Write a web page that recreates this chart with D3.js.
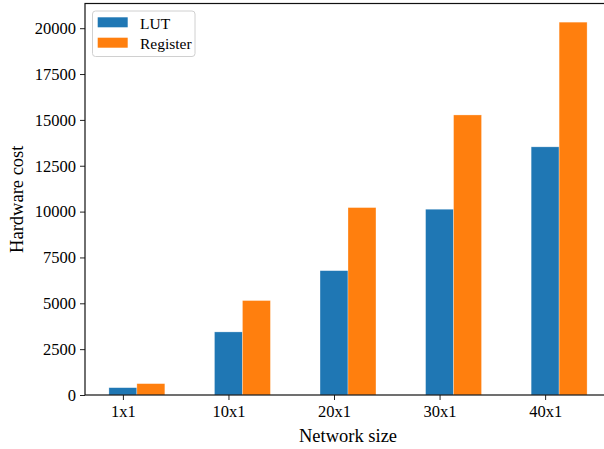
<!DOCTYPE html>
<html>
<head>
<meta charset="utf-8">
<script src="https://cdn.jsdelivr.net/npm/d3@7/dist/d3.min.js"></script>
<style>
  html, body { margin: 0; padding: 0; background: #fff; }
  svg { display: block; font-family: "Liberation Serif", "Times New Roman", serif; }
</style>
</head>
<body>
<svg id="chart" width="604" height="449"></svg>
<script>
// Hardware cost per network size
const categories = ["1x1", "10x1", "20x1", "30x1", "40x1"];
const lutValues = [400, 3440, 6780, 10130, 13530];
const registerValues = [620, 5150, 10220, 15270, 20330];
const yTicks = [0, 2500, 5000, 7500, 10000, 12500, 15000, 17500, 20000];
const seriesNames = ["LUT", "Register"];
const seriesColors = ["#1f77b4", "#ff7f0e"];

const W = 604, H = 449;
const plot = { left: 85, right: 611, top: 3.5, bottom: 395 };
const barW = 0.265; // bar width in category units

const svg = d3.select("#chart");

// x domain: bars span from -barW/2 to last + 1.5*barW, padded by 5%
const xMin = -barW / 2, xMax = (categories.length - 1) + 1.5 * barW;
const pad = 0.05 * (xMax - xMin);
const x = d3.scaleLinear().domain([xMin - pad, xMax + pad]).range([plot.left, plot.right]);

const yMax = 1.05 * d3.max(lutValues.concat(registerValues));
const y = d3.scaleLinear().domain([0, yMax]).range([plot.bottom, plot.top]);

const series = [lutValues, registerValues];

const g = svg.append("g");

// bars
series.forEach((vals, s) => {
  g.selectAll(null)
    .data(vals)
    .enter()
    .append("rect")
    .attr("x", (d, i) => x(i + s * barW - barW / 2))
    .attr("width", (d, i) => x(i + s * barW + barW / 2) - x(i + s * barW - barW / 2))
    .attr("y", d => y(d))
    .attr("height", d => y(0) - y(d))
    .attr("fill", seriesColors[s])
    .attr("stroke", "#ffffff")
    .attr("stroke-opacity", 0.5)
    .attr("stroke-width", 0.6);
});

// y axis
const yAxis = d3.axisLeft(y).tickValues(yTicks).tickSize(5).tickPadding(4).tickFormat(d3.format("d"));
const yG = svg.append("g").attr("transform", `translate(${plot.left},0)`).call(yAxis);
yG.select(".domain").remove();
yG.selectAll(".tick line").attr("stroke", "#222").attr("stroke-width", 1);
yG.selectAll(".tick text").attr("fill", "#000").style("font-size", "16.5px")
  .style("font-family", "'Liberation Serif', serif");

// x axis
const xAxis = d3.axisBottom(x).tickValues(d3.range(categories.length)).tickSize(5).tickPadding(5.5)
  .tickFormat(i => categories[i]);
const xG = svg.append("g").attr("transform", `translate(0,${plot.bottom})`).call(xAxis);
xG.select(".domain").remove();
xG.selectAll(".tick line").attr("stroke", "#222").attr("stroke-width", 1);
xG.selectAll(".tick text").attr("fill", "#000").style("font-size", "16.5px")
  .style("font-family", "'Liberation Serif', serif");

// frame
svg.append("rect")
  .attr("x", plot.left).attr("y", plot.top)
  .attr("width", plot.right - plot.left).attr("height", plot.bottom - plot.top)
  .attr("fill", "none").attr("stroke", "#111").attr("stroke-width", 1.2);

// axis titles
svg.append("text")
  .attr("x", (plot.left + plot.right) / 2).attr("y", 442)
  .attr("text-anchor", "middle").style("font-size", "18.5px").attr("fill", "#000")
  .text("Network size");
svg.append("text")
  .attr("transform", `translate(23,${(plot.top + plot.bottom) / 2}) rotate(-90)`)
  .attr("text-anchor", "middle").style("font-size", "18.5px").attr("fill", "#000")
  .text("Hardware cost");

// legend
const lg = svg.append("g").attr("transform", "translate(92.5,11)");
lg.append("rect").attr("width", 102.5).attr("height", 45.5).attr("rx", 3)
  .attr("fill", "#fff").attr("fill-opacity", 0.8).attr("stroke", "#d0d0d0").attr("stroke-width", 1);
seriesNames.forEach((name, s) => {
  lg.append("rect").attr("x", 5.2).attr("y", 6.3 + s * 20.4).attr("width", 30).attr("height", 10)
    .attr("fill", seriesColors[s]);
  lg.append("text").attr("x", 47.5).attr("y", 18 + s * 20.4)
    .style("font-size", "15.5px").attr("fill", "#000").text(name);
});
</script>
</body>
</html>
